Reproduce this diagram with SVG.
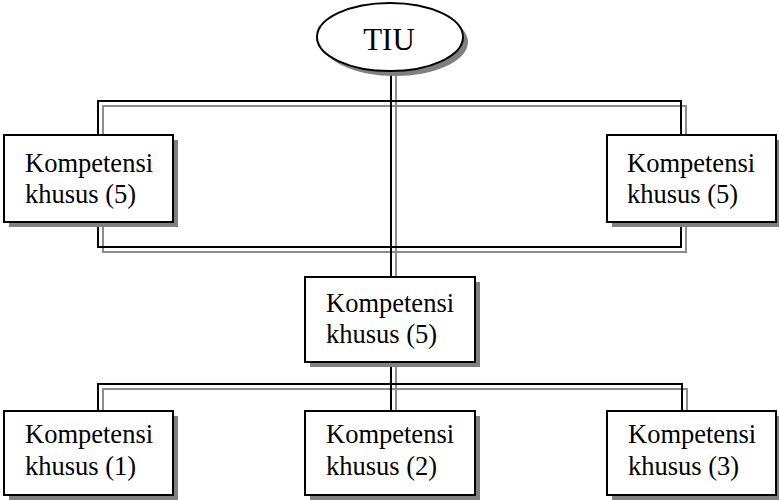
<svg xmlns="http://www.w3.org/2000/svg" width="779" height="500" viewBox="0 0 779 500">
<style>
.blk{fill:none;stroke:#000;stroke-width:2}
.shd{fill:none;stroke:#8c8c8c;stroke-width:2}
.box{fill:#fff;stroke:#000;stroke-width:2}
.bsh{fill:#808080;stroke:none}
.t{font-family:'Liberation Serif','Times New Roman',serif;font-size:26.5px;fill:#000}
.tiu{font-family:'Liberation Serif','Times New Roman',serif;font-size:31px;fill:#000}
</style>
<rect width="779" height="500" fill="#fff"/>
<g id="connectors">
  <path class="shd" d="M103 106H686V252H103Z M396 76V282 M103 415V389H687V415 M396 367V415"/>
  <path class="blk" d="M98 101H681V247H98Z M391 71V277 M98 411V384H682V411 M391 362V411"/>
</g>
<g id="tiu">
  <ellipse class="bsh" cx="395" cy="42" rx="73" ry="34"/>
  <ellipse class="box" cx="390" cy="37" rx="73" ry="34"/>
  <text class="tiu" x="389" y="50" text-anchor="middle">TIU</text>
</g>
<g id="k5-left">
  <rect class="bsh" x="9" y="140" width="169" height="87"/>
  <rect class="box" x="4" y="135" width="169" height="87"/>
  <text class="t" x="25" y="172">Kompetensi</text>
  <text class="t" x="25" y="203">khusus (5)</text>
</g>
<g id="k5-right">
  <rect class="bsh" x="612" y="140" width="169" height="87"/>
  <rect class="box" x="607" y="135" width="169" height="87"/>
  <text class="t" x="627" y="172">Kompetensi</text>
  <text class="t" x="627" y="203">khusus (5)</text>
</g>
<g id="k5-mid">
  <rect class="bsh" x="310" y="282" width="170" height="85"/>
  <rect class="box" x="305" y="277" width="170" height="85"/>
  <text class="t" x="326" y="312">Kompetensi</text>
  <text class="t" x="326" y="343">khusus (5)</text>
</g>
<g id="k1">
  <rect class="bsh" x="9" y="416" width="169" height="84"/>
  <rect class="box" x="4" y="411" width="169" height="84"/>
  <text class="t" x="25" y="443">Kompetensi</text>
  <text class="t" x="25" y="475">khusus (1)</text>
</g>
<g id="k2">
  <rect class="bsh" x="310" y="416" width="170" height="84"/>
  <rect class="box" x="305" y="411" width="170" height="84"/>
  <text class="t" x="326" y="443">Kompetensi</text>
  <text class="t" x="326" y="475">khusus (2)</text>
</g>
<g id="k3">
  <rect class="bsh" x="612" y="416" width="169" height="84"/>
  <rect class="box" x="607" y="411" width="169" height="84"/>
  <text class="t" x="628" y="443">Kompetensi</text>
  <text class="t" x="628" y="475">khusus (3)</text>
</g>
</svg>
